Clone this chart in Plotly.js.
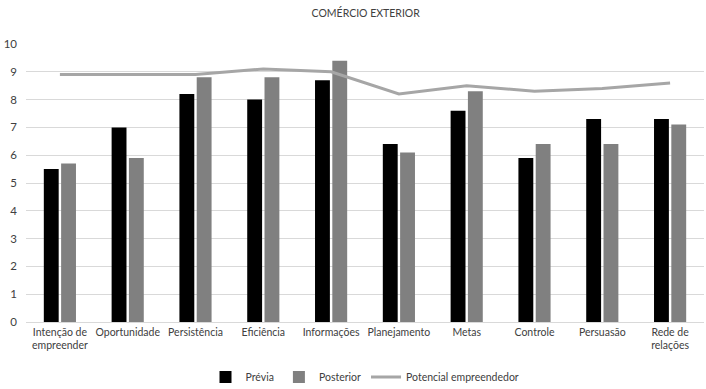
<!DOCTYPE html>
<html>
<head>
<meta charset="utf-8">
<script src="https://cdn.plot.ly/plotly-3.0.1.min.js"></script>
<style>html,body{margin:0;padding:0;background:#fff;}#chart{width:706px;height:389px;}</style>
</head>
<body>
<div id="chart"></div>
<script>
const categories = ["Intenção de<br>empreender", "Oportunidade", "Persistência", "Eficiência", "Informações", "Planejamento", "Metas", "Controle", "Persuasão", "Rede de<br>relações"];
const previa = [5.5, 7.0, 8.2, 8.0, 8.7, 6.4, 7.6, 5.9, 7.3, 7.3];
const posterior = [5.7, 5.9, 8.8, 8.8, 9.4, 6.1, 8.3, 6.4, 6.4, 7.1];
const potencial = [8.9, 8.9, 8.9, 9.1, 9.0, 8.2, 8.5, 8.3, 8.4, 8.6];
const yTicks = [0,1,2,3,4,5,6,7,8,9,10];

const font = "Lato, Open Sans, sans-serif";
const traces = [
  {type:'bar', name:'Prévia', x:categories, y:previa, marker:{color:'#000000'}},
  {type:'bar', name:'Posterior', x:categories, y:posterior, marker:{color:'#808080'}},
  {type:'scatter', mode:'lines', name:'Potencial empreendedor', x:categories, y:potencial, line:{color:'#a6a6a6', width:3}}
];
const layout = {
  width:706, height:389,
  margin:{l:26, r:2, t:44, b:67},
  paper_bgcolor:'#fff', plot_bgcolor:'#fff',
  font:{family:font, size:10.5, color:'#404040'},
  title:{text:'COMÉRCIO EXTERIOR', x:0.518, xanchor:'center', y:0.965, yanchor:'middle', font:{size:10.5, color:'#404040', family:font}},
  barmode:'group', bargap:0.49, bargroupgap:0.14,
  xaxis:{showgrid:false, showline:true, linecolor:'#d9d9d9', linewidth:1, ticks:'', tickfont:{size:10.5, color:'#404040'}, tickangle:0, automargin:false},
  yaxis:{range:[0,10], tickvals:yTicks, showgrid:true, gridcolor:'#d9d9d9', gridwidth:1, zeroline:false, showline:false, ticks:'', tickfont:{size:11.5, color:'#404040'}, ticklabelstandoff:8, automargin:false},
  legend:{orientation:'h', x:0.5, xanchor:'center', yref:'container', y:0.031, yanchor:'middle', font:{size:10.5, color:'#404040'}, traceorder:'normal', itemwidth:30},
  showlegend:true
};
Plotly.newPlot('chart', traces, layout, {displayModeBar:false, staticPlot:true});
</script>
</body>
</html>
